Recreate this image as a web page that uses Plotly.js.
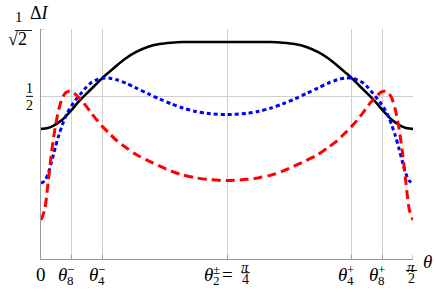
<!DOCTYPE html>
<html><head><meta charset="utf-8">
<script src="https://cdn.plot.ly/plotly-3.0.1.min.js"></script>
<style>html,body{margin:0;padding:0;background:#fff}</style>
</head><body><div id="chart" style="width:436px;height:292px"></div>
<script>
// angle samples (radians)
const theta = [0, 0.015, 0.03, 0.045, 0.06, 0.075, 0.09, 0.105, 0.12, 0.135, 0.15, 0.17, 0.19, 0.21, 0.235, 0.26, 0.29, 0.32, 0.36, 0.40, 0.45, 0.50, 0.55, 0.60, 0.65, 0.70, 0.7854,
  0.8708, 0.9208, 0.9708, 1.0208, 1.0708, 1.1208, 1.1708, 1.2108, 1.2508, 1.2808, 1.3108, 1.3358, 1.3608, 1.3808, 1.4008, 1.4208, 1.4358, 1.4508, 1.4658, 1.4808, 1.4958, 1.5108, 1.5258, 1.5408, 1.5558, 1.5708];
// solid black curve
const blackI = [0.400, 0.401, 0.403, 0.407, 0.413, 0.420, 0.428, 0.439, 0.451, 0.463, 0.476, 0.492, 0.507, 0.521, 0.539, 0.557, 0.576, 0.595, 0.618, 0.636, 0.652, 0.661, 0.665, 0.667, 0.667, 0.667, 0.667,
  0.667, 0.667, 0.667, 0.665, 0.661, 0.652, 0.636, 0.618, 0.595, 0.576, 0.557, 0.539, 0.521, 0.507, 0.492, 0.476, 0.463, 0.451, 0.439, 0.428, 0.420, 0.413, 0.407, 0.403, 0.401, 0.400];
// blue dotted curve
const blueI = [0.233, 0.240, 0.262, 0.300, 0.342, 0.380, 0.412, 0.440, 0.461, 0.478, 0.492, 0.510, 0.527, 0.541, 0.551, 0.556, 0.556, 0.551, 0.540, 0.526, 0.509, 0.492, 0.477, 0.464, 0.454, 0.448, 0.444,
  0.448, 0.454, 0.464, 0.477, 0.492, 0.509, 0.526, 0.540, 0.551, 0.556, 0.556, 0.551, 0.541, 0.527, 0.510, 0.492, 0.478, 0.461, 0.440, 0.412, 0.380, 0.342, 0.300, 0.262, 0.240, 0.233];
// red dashed curve
const redI = [0.120, 0.150, 0.235, 0.330, 0.405, 0.460, 0.495, 0.512, 0.516, 0.513, 0.503, 0.489, 0.471, 0.451, 0.428, 0.407, 0.385, 0.364, 0.342, 0.322, 0.303, 0.286, 0.270, 0.258, 0.250, 0.245, 0.241,
  0.245, 0.250, 0.258, 0.270, 0.286, 0.303, 0.322, 0.342, 0.364, 0.385, 0.407, 0.428, 0.451, 0.471, 0.489, 0.503, 0.513, 0.516, 0.512, 0.495, 0.460, 0.405, 0.330, 0.235, 0.150, 0.120];

const gridTheta = [0.127, 0.259, 0.7854, 1.3118, 1.4438];
const tickSubs = ['8', '4', '2', '4', '8'];
const tickSups = ['\u2212', '\u2212', '\u00b1', '+', '+'];
const xMax = Math.PI / 2;
const yTop = Math.SQRT1_2;
const yHalf = 0.5;

const F = '"Times New Roman", "Liberation Serif", "DejaVu Serif", serif';
const traces = [
  {x: theta, y: blackI, mode: 'lines', line: {color: '#000', width: 2.6, shape: 'spline', smoothing: 0.8}},
  {x: theta, y: blueI, mode: 'lines', line: {color: '#0000ff', width: 3, dash: '4px,3px', shape: 'spline', smoothing: 0.8}},
  {x: theta, y: redI, mode: 'lines', line: {color: '#ff0000', width: 3, dash: '9px,5px', shape: 'spline', smoothing: 0.8}}
];

const ann = [];
const shp = [];
function fs(s) { return {family: F, size: s, color: '#000'}; }
function A(o) { ann.push(Object.assign({showarrow: false, font: fs(19), xanchor: 'center', yanchor: 'middle', borderpad: 0}, o)); }
function L(x0, y0, x1, y1, xref, yref, color, w) { shp.push({type: 'line', xref: xref || 'paper', yref: yref || 'paper', x0, y0, x1, y1, line: {color: color || '#000', width: w || 1}}); }

const PH = 230, PW = 372; // plot size px
const py = p => -p / PH; // pixel offset below axis -> paper
// x labels
A({x: 0, xref: 'x', y: py(15.5), yref: 'paper', text: '0'});
gridTheta.forEach((t, i) => {
  const mid = i === 2;
  A({x: t, xref: 'x', y: py(15), yref: 'paper', text: '<i>θ</i>', xshift: mid ? -19 : -9});
  A({x: t, xref: 'x', y: py(21), yref: 'paper', text: tickSubs[i], xshift: mid ? -11 : -1, font: fs(13)});
  A({x: t, xref: 'x', y: py(10), yref: 'paper', text: tickSups[i], xshift: mid ? -10.5 : -1, font: fs(13)});
});
// = pi/4
A({x: gridTheta[2], xref: 'x', y: py(15.5), yref: 'paper', text: '=', xshift: 0});
A({x: gridTheta[2], xref: 'x', y: py(8), yref: 'paper', text: '<i>π</i>', xshift: 18, font: fs(15)});
A({x: gridTheta[2], xref: 'x', y: py(20.5), yref: 'paper', text: '4', xshift: 18, font: fs(14)});
const cx = 227.3 - 41;
L((cx + 14) / PW, py(13.7), (cx + 22.5) / PW, py(13.7));
// pi/2
A({x: xMax, xref: 'x', y: py(7.5), yref: 'paper', text: '<i>π</i>', xshift: -2, font: fs(15)});
A({x: xMax, xref: 'x', y: py(19.5), yref: 'paper', text: '2', xshift: -2, font: fs(14)});
L((406 - 41) / PW, py(11.5), (417 - 41) / PW, py(11.5));
// theta axis title
A({x: (427 - 41) / PW, xref: 'paper', y: py(2), yref: 'paper', text: '<i>θ</i>'});

// y label 1/2
const yx = (29.5 - 41) / PW;
A({x: yx, xref: 'paper', y: yHalf, yref: 'y', yshift: 8, text: '1', font: fs(14)});
A({x: yx, xref: 'paper', y: yHalf, yref: 'y', yshift: -9, text: '2', font: fs(14)});
L((26 - 41) / PW, yHalf, (33 - 41) / PW, yHalf, 'paper', 'y');
// y label 1/sqrt2 and Delta I
A({x: (18.5 - 41) / PW, xref: 'paper', y: yTop, yref: 'y', yshift: 12, text: '1', font: fs(15)});
A({x: (17 - 41) / PW, xref: 'paper', y: yTop, yref: 'y', yshift: -10, text: '√2', font: fs(18)});
L((3 - 41) / PW, yTop + 3.5 / 325, (33 - 41) / PW, yTop + 3.5 / 325, 'paper', 'y');
L((15 - 41) / PW, yTop - 1.5 / 325, (32 - 41) / PW, yTop - 1.5 / 325, 'paper', 'y', '#000', 0.9);
A({x: (39.5 - 41) / PW, xref: 'paper', y: yTop, yref: 'y', yshift: 16, text: 'Δ<i>I</i>', font: fs(18)});

// small ticks
L(xMax, 0, xMax, 4 / 325, 'x', 'y', '#999', 1);
L(0, yTop, 3 / 236.8, yTop, 'x', 'y', '#999', 1);

const layout = {
  width: 436, height: 292,
  margin: {l: 41, r: 23, t: 29, b: 33},
  paper_bgcolor: '#fff', plot_bgcolor: '#fff',
  showlegend: false,
  font: {family: F},
  xaxis: {range: [0, xMax], tickvals: gridTheta, showticklabels: false, showgrid: true, gridcolor: '#cfcfcf', gridwidth: 1,
    zeroline: false, showline: true, linecolor: '#999', linewidth: 1, ticks: 'inside', ticklen: 4, tickcolor: '#999'},
  yaxis: {range: [0, yTop], tickvals: [yHalf], showticklabels: false, showgrid: true, gridcolor: '#cfcfcf', gridwidth: 1,
    zeroline: false, showline: true, linecolor: '#999', linewidth: 1, ticks: ''},
  annotations: ann,
  shapes: shp
};
Plotly.newPlot('chart', traces, layout, {displayModeBar: false, staticPlot: true});
</script></body></html>
